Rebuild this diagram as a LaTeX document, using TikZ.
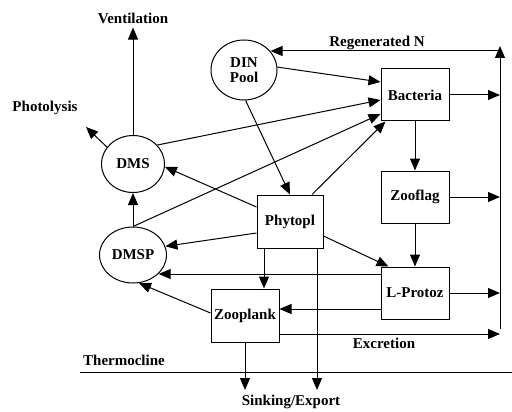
\documentclass[tikz,border=0pt]{standalone}
\usepackage{fontspec}
\setmainfont{Liberation Serif}
\usetikzlibrary{arrows.meta,shapes.geometric,calc}
\begin{document}
\begin{tikzpicture}[x=1pt,y=-1pt,
  every node/.style={font=\fontsize{15}{15}\selectfont\bfseries},
  ell/.style={draw,ellipse,inner sep=0pt,line width=1pt},
  box/.style={draw,rectangle,inner sep=0pt,line width=1pt,minimum width=68pt,minimum height=52pt},
  lbl/.style={inner sep=0pt},
  arr/.style={-{Triangle[length=12pt,width=10pt]},line width=1pt},
  ln/.style={line width=1pt}]
\useasboundingbox (0,0) rectangle (512,412);
% compartments
\node[ell,minimum width=66pt,minimum height=60pt,align=center] (din) at (244,70) {DIN\\Pool};
\node[box] (bac) at (415,95) {Bacteria};
\node[box] (zf) at (415,197) {Zooflag};
\node[box] (lp) at (415,293) {L-Protoz};
\node[box,minimum width=66pt,minimum height=53pt] (phy) at (290,221.5) {Phytopl};
\node[box,minimum height=53pt] (zp) at (245,315.5) {Zooplank};
\node[ell,minimum width=63pt,minimum height=57pt] (dms) at (133,164) {DMS};
\node[ell,minimum width=67pt,minimum height=56pt] (dmsp) at (133,255) {DMSP};
% labels
\node[lbl] (vent) at (133,18) {Ventilation};
\node[lbl] (photl) at (45,108) {Photolysis};
\node[lbl] (regen) at (377,43) {Regenerated N};
\node[lbl] (excr) at (384,343) {Excretion};
\node[lbl] (therm) at (124,360) {Thermocline};
\node[lbl] (sink) at (291,402) {Sinking/Export};
% helper coordinates
\coordinate (vt) at (500,46);
\coordinate (vb) at (500,329);
\coordinate (rn) at (499,51);
\coordinate (ph) at (86,127);
\coordinate (sinkb) at (291,390);
\coordinate (lpa) at ([yshift=19pt]lp.west);
\coordinate (lpb) at ([yshift=-16pt]lp.west);
\coordinate (pz) at ([xshift=-26pt]phy.south);
\coordinate (ps) at ([xshift=27pt]phy.south);
\coordinate (ex) at ([yshift=-18.5pt]zp.east);
% connectors
\draw[arr] (din.5) -- ([yshift=13pt]bac.west);
\draw[arr] (din.-87) -- (phy.north);
\draw[arr] (dms.38) -- ([yshift=-5pt]bac.west);
\draw[arr] (dmsp.north) -- ([yshift=-19pt]bac.west);
\draw[arr] ([xshift=22pt]phy.north) -- ([xshift=5pt]bac.south west);
\draw[arr] ([yshift=14.5pt]phy.west) -- (dms.-5);
\draw[arr] (dmsp.north) -- (dms.south);
\draw[arr] ([yshift=-11.5pt]phy.west) -- (dmsp.15);
\draw[arr] (lpa) -- (lpa -| dmsp.-36);
\draw[arr] ([yshift=2.5pt]zp.west) -- (dmsp.-78);
\draw[arr] (pz) -- (pz |- zp.north);
\draw[arr] ([yshift=-14.5pt]phy.east) -- ([xshift=-26.5pt]lp.north);
\draw[arr] (bac.south) -- (zf.north);
\draw[arr] (zf.south) -- (lp.north);
\draw[arr] (lpb) -- (lpb -| zp.east);
\draw[arr] (bac.east) -- (bac.east -| vb);
\draw[arr] (zf.east) -- (zf.east -| vb);
\draw[arr] (lp.east) -- (lp.east -| vb);
\draw[arr] (ex) -- (ex -| vb);
\draw[arr] (vb) -- (vt);
\draw[arr] (rn) -- (rn -| din.35);
\draw[arr] (dms.north) -- ([yshift=-4pt]vent.south);
\draw[arr] (dms.147) -- (ph);
\draw[arr] (zp.south) -- (zp.south |- sinkb);
\draw[arr] (ps) -- (ps |- sinkb);
% thermocline
\draw[ln] (80,372) -- (512,372);
\end{tikzpicture}
\end{document}
